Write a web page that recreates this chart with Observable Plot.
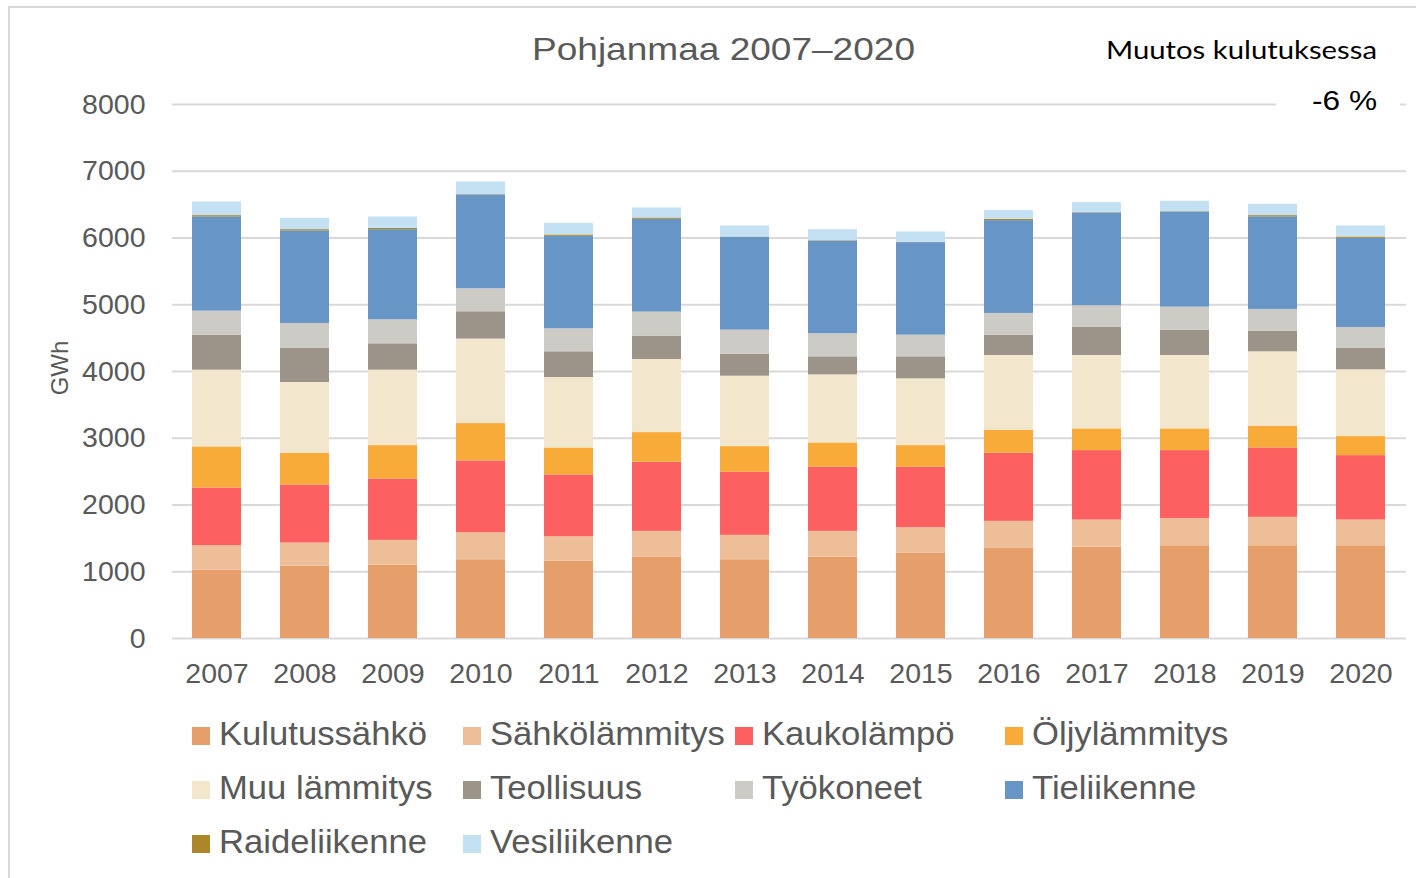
<!DOCTYPE html>
<html><head><meta charset="utf-8">
<script src="https://cdn.jsdelivr.net/npm/d3@7"></script>
<script src="https://cdn.jsdelivr.net/npm/@observablehq/plot@0.6"></script>
<style>
html,body{margin:0;padding:0;background:#fff;width:1416px;height:878px;overflow:hidden;}
#frame{position:absolute;left:8px;top:6px;width:1500px;height:1000px;border:2px solid #d9d9d9;box-sizing:border-box;}
#chart{position:absolute;left:0;top:70px;}
#overlay{position:absolute;left:0;top:0;pointer-events:none;}
</style></head><body>
<div id="frame"></div>
<div id="chart"></div>
<svg id="overlay" width="1416" height="878"></svg>
<script>
const years = ["2007","2008","2009","2010","2011","2012","2013","2014","2015","2016","2017","2018","2019","2020"];
const categories = ["Kulutussähkö","Sähkölämmitys","Kaukolämpö","Öljylämmitys","Muu lämmitys","Teollisuus","Työkoneet","Tieliikenne","Raideliikenne","Vesiliikenne"];
const colors = ["#E69F6A","#EEBE99","#FC6060","#F9AB3A","#F2E6CC","#9C9389","#CDCBC5","#6695C6","#AD862A","#C4E1F4"];
const kulutussahko  = [1025,1085,1100,1180,1160,1215,1180,1220,1275,1350,1370,1390,1390,1390];
const sahkolammitys = [365,345,370,405,365,390,365,385,385,405,405,405,425,385];
const kaukolampo    = [865,870,920,1075,925,1035,945,960,905,1020,1040,1020,1040,965];
const oljylammitys  = [615,475,500,560,405,445,385,365,325,345,325,325,325,285];
const muuLammitys   = [1150,1060,1130,1265,1055,1095,1055,1020,1000,1120,1100,1100,1115,1000];
const teollisuus    = [525,515,395,410,385,350,330,270,330,305,420,380,310,325];
const tyokoneet     = [360,370,360,345,345,360,360,345,325,325,325,345,325,310];
const tieliikenne   = [1410,1385,1350,1405,1385,1390,1390,1390,1385,1390,1390,1425,1385,1335];
const raideliikenne = [20,20,20,5,20,20,5,5,5,20,5,5,20,20];
const vesiliikenne  = [205,170,170,190,175,150,165,165,155,130,150,155,170,165];
const yTicks = [0,1000,2000,3000,4000,5000,6000,7000,8000];
const title = "Pohjanmaa 2007–2020";
const noteTitle = "Muutos kulutuksessa";
const noteValue = "-6 %";
const yLabel = "GWh";

const series = [kulutussahko,sahkolammitys,kaukolampo,oljylammitys,muuLammitys,teollisuus,tyokoneet,tieliikenne,raideliikenne,vesiliikenne];
const table = [];
years.forEach((yr, i) => categories.forEach((c, j) => table.push({year: yr, cat: c, value: series[j][i]})));

const chart = Plot.plot({
  width: 1416, height: 640,
  marginLeft: 172, marginRight: 10, marginTop: 34, marginBottom: 72,
  style: {fontFamily: "'Liberation Sans', Arial, sans-serif", fontSize: "28.5px", color: "#595959", background: "transparent"},
  x: {domain: years, paddingInner: 0.44, paddingOuter: 0.22, label: null},
  y: {domain: [0, 8000], label: null},
  color: {domain: categories, range: colors},
  marks: [
    Plot.ruleY(yTicks, {stroke: "#d9d9d9", strokeWidth: 2}),
    Plot.barY(table, {x: "year", y: "value", fill: "cat", order: categories}),
    Plot.axisY(yTicks, {tickSize: 0, tickPadding: 27, label: null, tickFormat: d => String(d)}),
    Plot.axisX({tickSize: 0, tickPadding: 24, label: null})
  ]
});
document.getElementById("chart").appendChild(chart);

const svg = d3.select("#overlay");
const font = "'Liberation Sans', Arial, sans-serif";
svg.append("text").attr("x", 723.5).attr("y", 59.5).attr("text-anchor", "middle")
  .attr("font-family", font).attr("font-size", 32).attr("fill", "#595959")
  .attr("textLength", 383).attr("lengthAdjust", "spacingAndGlyphs").text(title);
svg.append("text").attr("x", 1377).attr("y", 59).attr("text-anchor", "end")
  .attr("font-family", "Lato, 'Open Sans', sans-serif").attr("font-size", 25).attr("fill", "#000")
  .attr("textLength", 271).attr("lengthAdjust", "spacingAndGlyphs").text(noteTitle);
svg.append("rect").attr("x", 1276).attr("y", 84).attr("width", 124).attr("height", 32).attr("fill", "#fff");
svg.append("text").attr("x", 1377).attr("y", 110).attr("text-anchor", "end")
  .attr("font-family", font).attr("font-size", 28).attr("fill", "#000")
  .attr("textLength", 65).attr("lengthAdjust", "spacingAndGlyphs").text(noteValue);
svg.append("text").attr("transform", "translate(67.5,368) rotate(-90)").attr("text-anchor", "middle")
  .attr("font-family", font).attr("font-size", 24).attr("fill", "#595959").text(yLabel);

const colX = [192, 463, 735, 1005];
const rowY = [745, 799, 853];
categories.forEach((c, i) => {
  const cx = colX[i % 4], by = rowY[Math.floor(i / 4)];
  svg.append("rect").attr("x", cx).attr("y", by - 18).attr("width", 18).attr("height", 18).attr("fill", colors[i]);
  svg.append("text").attr("transform", `translate(${cx + 27},${by}) scale(1.05,1)`)
    .attr("font-family", font).attr("font-size", 33).attr("fill", "#595959").text(c);
});
</script>
</body></html>
